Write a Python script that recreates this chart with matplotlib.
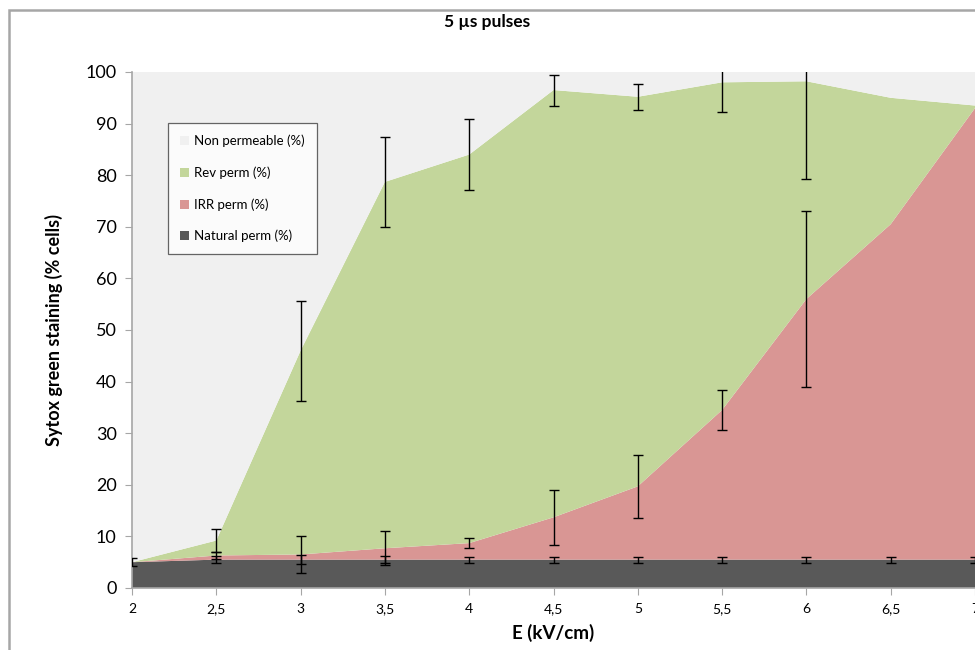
import matplotlib.pyplot as plt
import numpy as np
from matplotlib.patches import Rectangle

# --- Data (percent of cells) ---
field = [2, 2.5, 3, 3.5, 4, 4.5, 5, 5.5, 6, 6.5, 7]
x_labels = ['2', '2,5', '3', '3,5', '4', '4,5', '5', '5,5', '6', '6,5', '7']

natural_perm = [5.0, 5.5, 5.5, 5.5, 5.5, 5.5, 5.5, 5.5, 5.5, 5.5, 5.5]
irr_perm = [0.0, 0.8, 1.0, 2.2, 3.2, 8.2, 14.2, 29.0, 50.5, 65.0, 87.5]
rev_perm = [0.0, 2.9, 39.5, 71.0, 75.3, 82.8, 75.5, 63.5, 42.2, 24.5, 0.5]

# error bars (half-widths), 0 where no bar is drawn
natural_err = [0.8, 0.7, 0.9, 0.7, 0.6, 0.6, 0.6, 0.6, 0.6, 0.6, 0.6]
irr_err = [0.0, 0.6, 3.5, 3.3, 1.0, 5.3, 6.1, 3.8, 17.0, 0.0, 0.0]
rev_err = [0.0, 2.2, 9.7, 8.7, 6.9, 3.0, 2.5, 5.7, 18.9, 0.0, 0.0]

series_names = ['Natural perm (%)', 'IRR perm (%)', 'Rev perm (%)', 'Non permeable (%)']
series_colors = ['#595959', '#D99694', '#C3D69B', '#F0F0F0']

plt.rcParams['font.family'] = ['Lato', 'DejaVu Sans']

x = np.array(field)
nat = np.array(natural_perm)
irr = np.array(irr_perm)
rev = np.array(rev_perm)
non_perm = 100 - (nat + irr + rev)

fig = plt.figure(figsize=(9.75, 6.5), dpi=100)
fig.patches.append(Rectangle((9 / 975, -0.1), 1.2, 1 - 10 / 650 + 0.1,
                             transform=fig.transFigure, fill=False,
                             edgecolor='#A6A6A6', linewidth=1.8))
ax = fig.add_axes([132 / 975, 62 / 650, 843 / 975, 516 / 650])

ax.stackplot(x, nat, irr, rev, non_perm, colors=series_colors,
             labels=series_names, linewidth=0)

# error bars drawn at stacked positions
err_style = dict(fmt='none', ecolor='black', elinewidth=1.0, capsize=3.5, capthick=1.0, zorder=5)
for top, err in [(nat, natural_err), (nat + irr, irr_err), (nat + irr + rev, rev_err)]:
    err = np.array(err)
    mask = err > 0
    ax.errorbar(x[mask], top[mask], yerr=err[mask], **err_style)

ax.set_xlim(2, 7)
ax.set_ylim(0, 100)
ax.set_xticks(field)
ax.set_xticklabels(x_labels, fontsize=10)
ax.set_yticks(np.arange(0, 101, 10))
ax.tick_params(axis='y', labelsize=13, length=5, color='#A6A6A6', pad=6)
ax.tick_params(axis='x', length=5, color='#A6A6A6', pad=6)
for side in ['top', 'right']:
    ax.spines[side].set_visible(False)
for side in ['left', 'bottom']:
    ax.spines[side].set_color('#A6A6A6')
    ax.spines[side].set_linewidth(1.2)

ax.set_xlabel('E (kV/cm)', fontsize=13.5, fontweight='bold', labelpad=6)
ax.set_ylabel('Sytox green staining (% cells)', fontsize=13, fontweight='bold', labelpad=16)
fig.text(0.5, 1 - 22 / 650, '5 µs pulses', ha='center', va='center',
         fontsize=12.5, fontweight='bold')

handles, labels = ax.get_legend_handles_labels()
leg = ax.legend(handles[::-1], labels[::-1], loc='upper left',
                bbox_to_anchor=(36 / 843, (588 - 123) / 516), borderaxespad=0,
                fontsize=9.5, frameon=True, fancybox=False, edgecolor='#404040',
                handlelength=0.7, handleheight=0.7, labelspacing=1.45,
                borderpad=0.9, handletextpad=0.4)
leg.get_frame().set_linewidth(0.9)

fig.savefig('out.png', dpi=100)
